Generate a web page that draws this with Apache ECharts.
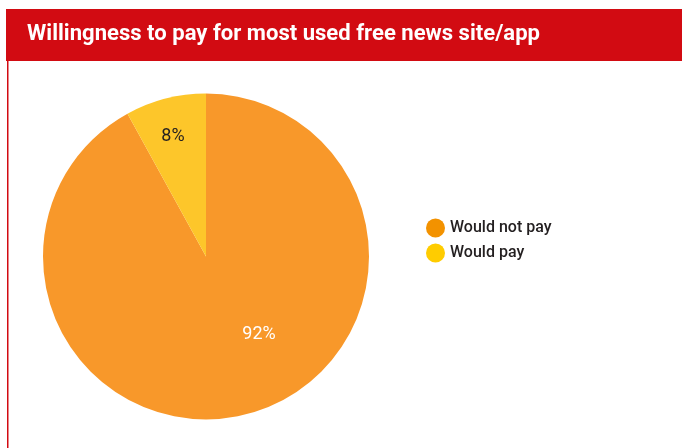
<!DOCTYPE html>
<html><head><meta charset="utf-8">
<script src="https://cdn.jsdelivr.net/npm/echarts@6/dist/echarts.min.js"></script>
<style>html,body{margin:0;padding:0;background:#fff}#c{width:682px;height:448px}</style>
</head><body><div id="c"></div>
<script>
const titleText = 'Willingness to pay for most used free news site/app';
const categories = ['Would not pay', 'Would pay'];
const values = [92, 8];
const labels = ['92%', '8%'];

const sliceColors = ['#F8982A', '#FDC62A'];
const legendColors = ['#F39200', '#FFCC00'];
const labelColors = ['#ffffff', '#231F20'];
const labelOffsets = [[32, -4], [-12, -38]];

// measure title so it spans the same width as the original
const titleFont = 'bold 22px Roboto';
const mctx = document.createElement('canvas').getContext('2d');
mctx.font = titleFont;
const titleScale = 513 / mctx.measureText(titleText).width;

const chart = echarts.init(document.getElementById('c'));
chart.setOption({
  backgroundColor: '#fff',
  animation: false,
  graphic: [
    { type: 'rect', shape: { x: 6, y: 9, width: 676, height: 52 }, style: { fill: '#D20B12' }, z: 0 },
    { type: 'rect', shape: { x: 7, y: 61, width: 1.5, height: 387 }, style: { fill: '#D20B12' }, z: 0 },
    { type: 'text', x: 27, y: 34.5, scaleX: titleScale, z: 1,
      style: { text: titleText, font: titleFont, fill: '#fff', verticalAlign: 'middle', align: 'left' } }
  ],
  legend: {
    orient: 'vertical', left: 426, top: 218.5, padding: 0, icon: 'circle',
    itemWidth: 19, itemHeight: 19, itemGap: 6,
    textStyle: { color: '#231F20', fontFamily: 'Roboto', fontSize: 16, fontWeight: 500 },
    data: categories.map((c, i) => ({ name: c, itemStyle: { color: legendColors[i] } }))
  },
  series: [{
    type: 'pie', center: [206, 256.5], radius: 163, startAngle: 90, clockwise: true,
    labelLine: { show: false },
    emphasis: { disabled: true },
    data: categories.map((c, i) => ({
      name: c, value: values[i],
      itemStyle: { color: sliceColors[i] },
      label: {
        show: true, position: 'inside', formatter: labels[i], offset: labelOffsets[i],
        color: labelColors[i], fontFamily: 'Roboto', fontSize: 18
      }
    }))
  }]
});
</script></body></html>
